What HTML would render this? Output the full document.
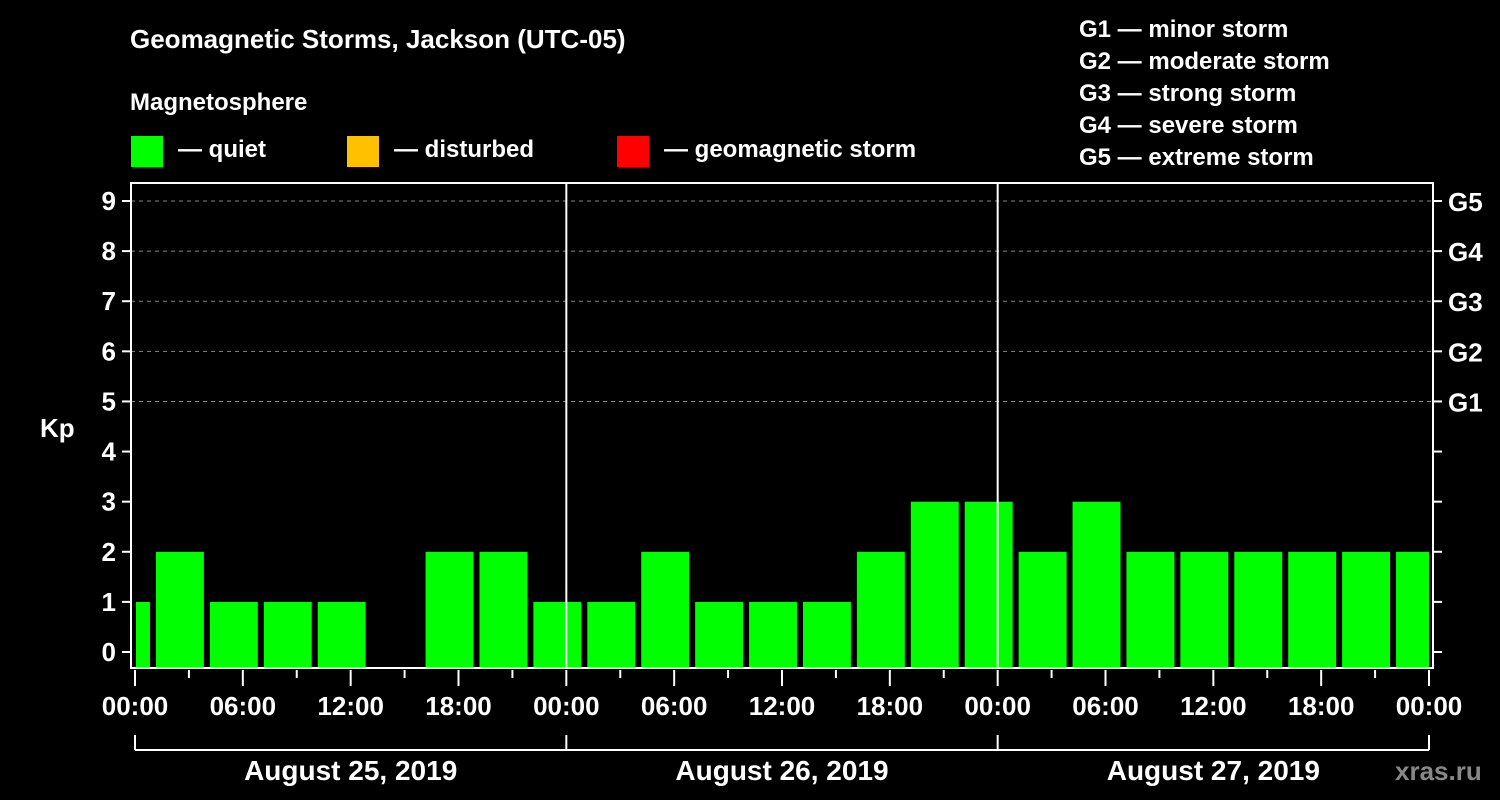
<!DOCTYPE html>
<html><head><meta charset="utf-8"><style>
body{margin:0;background:#000;width:1500px;height:800px;overflow:hidden}
svg{display:block;font-family:"Liberation Sans",Arial,sans-serif;font-weight:bold;fill:#fff}
</style></head><body>
<svg id="c" width="1500" height="800">
<text x="130" y="48" font-size="26">Geomagnetic Storms, Jackson (UTC-05)</text>
<text x="130" y="110" font-size="24">Magnetosphere</text>
<g><rect x="131" y="136" width="32" height="31" fill="#00ff00"/><text x="178" y="157" font-size="24">— quiet</text></g>
<g><rect x="347" y="136" width="32" height="31" fill="#ffc000"/><text x="394" y="157" font-size="24">— disturbed</text></g>
<g><rect x="617" y="136" width="32" height="31" fill="#ff0000"/><text x="664" y="157" font-size="24">— geomagnetic storm</text></g>
<g font-size="24">
<text x="1079" y="37">G1 — minor storm</text><text x="1079" y="69">G2 — moderate storm</text><text x="1079" y="101">G3 — strong storm</text><text x="1079" y="133">G4 — severe storm</text><text x="1079" y="165">G5 — extreme storm</text></g>
<text x="40" y="437" font-size="26">Kp</text>
<text x="1395" y="780" font-size="26" fill="#888">xras.ru</text>
<g id="plot"></g>
</svg>
<script>
const firstPartial = 1;
const kpValues = [2,1,1,1,0,2,2,1,1,2,1,1,1,2,3,3,2,3,2,2,2,2,2,2];
const yTicks = [0,1,2,3,4,5,6,7,8,9];
const gLabels = ["G1","G2","G3","G4","G5"];
const xTickLabels = ["00:00","06:00","12:00","18:00","00:00","06:00","12:00","18:00","00:00","06:00","12:00","18:00","00:00"];
const dayLabels = ["August 25, 2019","August 26, 2019","August 27, 2019"];
const NS="http://www.w3.org/2000/svg";
const g=document.getElementById('plot');
const L=131,R=1433,T=183,B=668,x0=135,hourPx=(1429-135)/72;
const X=h=>x0+h*hourPx;
const Y=v=>652-v*(652-201)/9;
function mk(t,a,p){const e=document.createElementNS(NS,t);for(const k in a)e.setAttribute(k,a[k]);(p||g).appendChild(e);return e;}
// grid
for(let v=5;v<=9;v++){const e=mk('line',{x1:L,x2:R,y1:Y(v),y2:Y(v),stroke:'#888','stroke-dasharray':'4,4'});

}
// bars
function bar(h0,h1,v){if(v<=0)return;const xa=Math.max(X(h0)+3,L+5),xb=Math.min(X(h1)-3,1429);
const e=mk('rect',{x:xa,y:Y(v),width:xb-xa,height:B-Y(v),fill:'#00ff00'});

}
bar(-2,1,firstPartial);
kpValues.forEach((v,i)=>bar(1+3*i,4+3*i,v));
// day separators
[24,48].forEach(h=>{const e=mk('line',{x1:X(h),x2:X(h),y1:T,y2:B,stroke:'#fff','stroke-width':2});

});
// frame
const f=mk('rect',{x:L,y:T,width:R-L,height:B-T,fill:'none',stroke:'#fff','stroke-width':2});


// y ticks
yTicks.forEach(v=>{mk('line',{x1:122,x2:L,y1:Y(v),y2:Y(v),stroke:'#fff','stroke-width':2});
mk('line',{x1:R,x2:1442,y1:Y(v),y2:Y(v),stroke:'#fff','stroke-width':2});
const t=mk('text',{x:116,y:Y(v)+9,'text-anchor':'end','font-size':26});t.textContent=v;

});
gLabels.forEach((s,i)=>{const t=mk('text',{x:1448,y:Y(5+i)+10,'font-size':26});t.textContent=s;

});
// x ticks
for(let h=0;h<=72;h+=3){mk('line',{x1:X(h),x2:X(h),y1:B+2,y2:h%6?678:686,stroke:'#fff','stroke-width':2});}
xTickLabels.forEach((s,i)=>{const t=mk('text',{x:X(i*6),y:715,'text-anchor':'middle','font-size':26});t.textContent=s;

});
// day bracket
mk('line',{x1:X(0),x2:X(72),y1:750,y2:750,stroke:'#fff','stroke-width':2});
[0,24,48,72].forEach(h=>mk('line',{x1:X(h),x2:X(h),y1:735,y2:750,stroke:'#fff','stroke-width':2}));
dayLabels.forEach((s,i)=>{const t=mk('text',{x:X(12+24*i),y:780,'text-anchor':'middle','font-size':28});t.textContent=s;

});
</script>
</body></html>
